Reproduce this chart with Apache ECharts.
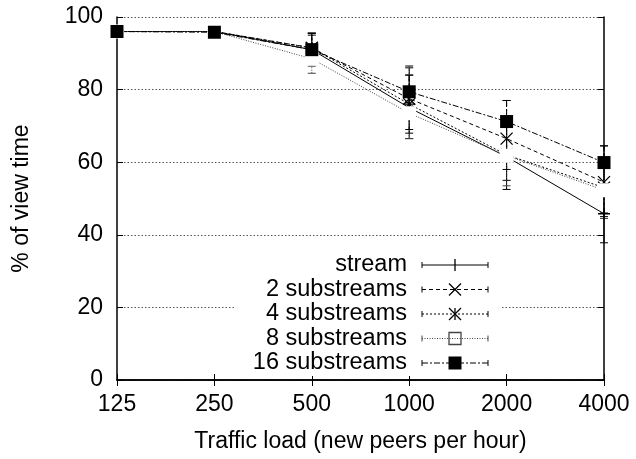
<!DOCTYPE html>
<html><head><meta charset="utf-8">
<script src="https://cdn.jsdelivr.net/npm/echarts@6/dist/echarts.min.js"></script>
<style>html,body{margin:0;padding:0;background:#fff}#c{width:636px;height:459px}</style>
</head><body><div id="c"></div>
<script>
var categories = ['125','250','500','1000','2000','4000'];
var seriesNames = ['stream','2 substreams','4 substreams','8 substreams','16 substreams'];
var stream = [96, 96, 91, 75, 61.5, 45.8];
var sub2   = [96, 96, 91.5, 77.5, 66.5, 54.5];
var sub4   = [96, 96, 91.5, 76, 62, 53];
var sub8   = [96, 96, 88.5, 73.5, 61.8, 52.3];
var sub16  = [96, 95.8, 91, 79.4, 71.2, 59.9];
var streamLo = [95.5, 95.5, 86.5, 66.5, 52.5, 37.8];
var streamHi = [96.5, 96.5, 95.5, 84, 70, 54];
var sub2Lo = [95.5, 95.5, 87.5, 69, 58, 46];
var sub2Hi = [96.5, 96.5, 95.5, 86.5, 77, 64.5];
var sub4Lo = [95.5, 95.5, 87, 68, 55, 45];
var sub4Hi = [96.5, 96.5, 95, 84, 70, 61];
var sub8Lo = [95.5, 95.5, 84.5, 66.5, 53.5, 44.5];
var sub8Hi = [96.5, 96.5, 92.5, 80.5, 70, 60];
var sub16Lo = [95.5, 95.5, 87, 72, 62, 53];
var sub16Hi = [96.5, 96.5, 95.6, 86, 77, 64.5];
var yTicks = [0, 20, 40, 60, 80, 100];

var FONT = '"Liberation Sans", Arial, Helvetica, sans-serif';
var values = [stream, sub2, sub4, sub8, sub16];
var lows = [streamLo, sub2Lo, sub4Lo, sub8Lo, sub16Lo];
var highs = [streamHi, sub2Hi, sub4Hi, sub8Hi, sub16Hi];
var styles = [
  {dash: 'solid', color: '#000', symbol: 'path://M0,-1L0,1M-1,0L1,0', size: 12, fill: 'none'},
  {dash: [4, 3], color: '#000', symbol: 'path://M-1,-1L1,1M-1,1L1,-1', size: 12, fill: 'none'},
  {dash: [2, 2], color: '#000', symbol: 'path://M-1,-1L1,1M-1,1L1,-1M0,-1L0,1M-1,0L1,0', size: 12, fill: 'none'},
  {dash: [1, 1.5], color: '#444', symbol: 'emptyRect', size: 12, fill: '#fff'},
  {dash: [6, 2, 2, 2], color: '#000', symbol: 'rect', size: 13, fill: '#000'}
];

var series = [];
values.forEach(function (vals, i) {
  var st = styles[i];
  var errData = categories.map(function (c, j) { return [j, lows[i][j], highs[i][j]]; });
  series.push({
    type: 'custom', name: seriesNames[i] + ' err', data: errData, z: 2,
    renderItem: function (params, api) {
      var x = api.value(0);
      var lo = api.coord([x, api.value(1)]);
      var hi = api.coord([x, api.value(2)]);
      var w = 4;
      var s = {stroke: st.color, lineWidth: 1, lineDash: st.dash === 'solid' ? null : st.dash};
      return {type: 'group', children: [
        {type: 'line', shape: {x1: lo[0], y1: lo[1], x2: hi[0], y2: hi[1]}, style: s},
        {type: 'line', shape: {x1: lo[0] - w, y1: lo[1], x2: lo[0] + w, y2: lo[1]}, style: {stroke: st.color, lineWidth: 1}},
        {type: 'line', shape: {x1: hi[0] - w, y1: hi[1], x2: hi[0] + w, y2: hi[1]}, style: {stroke: st.color, lineWidth: 1}}
      ]};
    }
  });
  series.push({
    type: 'line', name: seriesNames[i], data: vals, z: 3 + i,
    symbol: st.symbol, symbolSize: st.size, showAllSymbol: true,
    lineStyle: {color: st.color, width: 1, type: st.dash},
    itemStyle: {color: st.fill === 'none' ? 'rgba(0,0,0,0)' : st.fill, borderColor: st.color, borderWidth: st.fill === '#000' ? 0 : 1.3, opacity: 1},
    emphasis: {disabled: true}, animation: false
  });
});

// legend drawn as graphic elements
var legendX = 407, lineX1 = 422, lineX2 = 488, rowY0 = 265, rowDy = 24.5;
var gElems = [{type: 'rect', shape: {x: 236, y: 252, width: 266, height: 124}, style: {fill: '#fff'}, z: 10}];
styles.forEach(function (st, i) {
  var y = rowY0 + i * rowDy;
  var mx = (lineX1 + lineX2) / 2;
  gElems.push({type: 'text', x: legendX, y: y, z: 11, style: {text: seriesNames[i], font: '23.5px ' + FONT, fill: '#000', textAlign: 'right', textVerticalAlign: 'middle'}});
  gElems.push({type: 'line', z: 11, shape: {x1: lineX1, y1: y, x2: lineX2, y2: y}, style: {stroke: st.color, lineWidth: 1, lineDash: st.dash === 'solid' ? null : st.dash}});
  gElems.push({type: 'line', z: 11, shape: {x1: lineX1, y1: y - 3, x2: lineX1, y2: y + 3}, style: {stroke: st.color, lineWidth: 1}});
  gElems.push({type: 'line', z: 11, shape: {x1: lineX2, y1: y - 3, x2: lineX2, y2: y + 3}, style: {stroke: st.color, lineWidth: 1}});
  var h = st.size / 2;
  var ms = {stroke: st.color, lineWidth: 1.3};
  if (i === 0) {
    gElems.push({type: 'line', z: 12, shape: {x1: mx, y1: y - h, x2: mx, y2: y + h}, style: ms});
  } else if (i === 1 || i === 2) {
    gElems.push({type: 'line', z: 12, shape: {x1: mx - h, y1: y - h, x2: mx + h, y2: y + h}, style: ms});
    gElems.push({type: 'line', z: 12, shape: {x1: mx - h, y1: y + h, x2: mx + h, y2: y - h}, style: ms});
    if (i === 2) gElems.push({type: 'line', z: 12, shape: {x1: mx, y1: y - h, x2: mx, y2: y + h}, style: ms});
  } else if (i === 3) {
    gElems.push({type: 'rect', z: 12, shape: {x: mx - h, y: y - h, width: st.size, height: st.size}, style: {fill: 'rgba(0,0,0,0)', stroke: st.color, lineWidth: 1.3}});
  } else {
    gElems.push({type: 'rect', z: 12, shape: {x: mx - h, y: y - h, width: st.size, height: st.size}, style: {fill: '#000'}});
  }
});

var axisLineStyle = {color: '#000', width: 1.5};
var option = {
  animation: false,
  backgroundColor: '#fff',
  textStyle: {fontFamily: FONT},
  grid: {left: 117, right: 32, top: 17, bottom: 79, containLabel: false, outerBoundsMode: 'none'},
  xAxis: [{
    type: 'category', data: categories, boundaryGap: false,
    axisLine: {lineStyle: axisLineStyle},
    axisTick: {inside: true, length: 6, lineStyle: {color: '#000'}},
    axisLabel: {fontSize: 23, color: '#000', margin: 13, fontFamily: FONT},
    splitLine: {show: false},
    name: 'Traffic load (new peers per hour)', nameLocation: 'middle', nameGap: 50,
    nameTextStyle: {fontSize: 23, color: '#000', fontFamily: FONT}
  }, {
    type: 'category', data: categories, boundaryGap: false, position: 'top',
    axisLine: {lineStyle: axisLineStyle},
    axisTick: {inside: true, length: 6, lineStyle: {color: '#000'}},
    axisLabel: {show: false}, splitLine: {show: false}
  }],
  yAxis: [{
    type: 'value', min: 0, max: 100, interval: 20,
    axisLine: {show: true, lineStyle: axisLineStyle},
    axisTick: {show: true, inside: true, length: 6, lineStyle: {color: '#000'}},
    axisLabel: {fontSize: 23, color: '#000', margin: 14, fontFamily: FONT},
    splitLine: {show: true, lineStyle: {color: '#555', type: [1.5, 2], width: 1}},
    name: '% of view time', nameLocation: 'middle', nameGap: 84, nameRotate: 90,
    nameTextStyle: {fontSize: 23, color: '#000', fontFamily: FONT}
  }, {
    type: 'value', min: 0, max: 100, interval: 20, position: 'right',
    axisLine: {show: true, lineStyle: axisLineStyle},
    axisTick: {show: true, inside: true, length: 6, lineStyle: {color: '#000'}},
    axisLabel: {show: false}, splitLine: {show: false}
  }],
  graphic: gElems,
  series: series
};
var chart = echarts.init(document.getElementById('c'), null, {renderer: 'canvas'});
chart.setOption(option);
</script></body></html>
